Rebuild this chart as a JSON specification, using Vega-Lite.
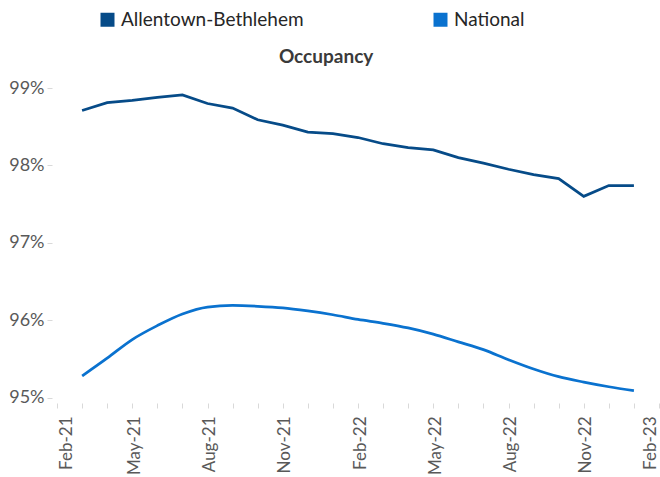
{
  "$schema": "https://vega.github.io/schema/vega-lite/v6.json",
  "width": 602,
  "height": 315,
  "autosize": {"type": "none"},
  "padding": {"left": 57, "top": 88, "right": 1, "bottom": 74},
  "background": "white",
  "title": {"text": "Occupancy", "font": "Lato", "fontSize": 19, "fontWeight": "bold", "color": "#3a3a3a", "anchor": "middle", "frame": "bounds", "offset": -57, "dx": -8},
  "data": {"values": [
    {"month": "Mar-21", "series": "Allentown-Bethlehem", "occ": 0.9871},
    {"month": "Apr-21", "series": "Allentown-Bethlehem", "occ": 0.9881},
    {"month": "May-21", "series": "Allentown-Bethlehem", "occ": 0.9884},
    {"month": "Jun-21", "series": "Allentown-Bethlehem", "occ": 0.9888},
    {"month": "Jul-21", "series": "Allentown-Bethlehem", "occ": 0.9891},
    {"month": "Aug-21", "series": "Allentown-Bethlehem", "occ": 0.9880},
    {"month": "Sep-21", "series": "Allentown-Bethlehem", "occ": 0.9874},
    {"month": "Oct-21", "series": "Allentown-Bethlehem", "occ": 0.9859},
    {"month": "Nov-21", "series": "Allentown-Bethlehem", "occ": 0.9852},
    {"month": "Dec-21", "series": "Allentown-Bethlehem", "occ": 0.9843},
    {"month": "Jan-22", "series": "Allentown-Bethlehem", "occ": 0.9841},
    {"month": "Feb-22", "series": "Allentown-Bethlehem", "occ": 0.9836},
    {"month": "Mar-22", "series": "Allentown-Bethlehem", "occ": 0.9828},
    {"month": "Apr-22", "series": "Allentown-Bethlehem", "occ": 0.9823},
    {"month": "May-22", "series": "Allentown-Bethlehem", "occ": 0.9820},
    {"month": "Jun-22", "series": "Allentown-Bethlehem", "occ": 0.9810},
    {"month": "Jul-22", "series": "Allentown-Bethlehem", "occ": 0.9803},
    {"month": "Aug-22", "series": "Allentown-Bethlehem", "occ": 0.9795},
    {"month": "Sep-22", "series": "Allentown-Bethlehem", "occ": 0.9788},
    {"month": "Oct-22", "series": "Allentown-Bethlehem", "occ": 0.9783},
    {"month": "Nov-22", "series": "Allentown-Bethlehem", "occ": 0.9760},
    {"month": "Dec-22", "series": "Allentown-Bethlehem", "occ": 0.9774},
    {"month": "Jan-23", "series": "Allentown-Bethlehem", "occ": 0.9774},
    {"month": "Mar-21", "series": "National", "occ": 0.9528},
    {"month": "Apr-21", "series": "National", "occ": 0.9551},
    {"month": "May-21", "series": "National", "occ": 0.9575},
    {"month": "Jun-21", "series": "National", "occ": 0.9593},
    {"month": "Jul-21", "series": "National", "occ": 0.9608},
    {"month": "Aug-21", "series": "National", "occ": 0.9617},
    {"month": "Sep-21", "series": "National", "occ": 0.9619},
    {"month": "Oct-21", "series": "National", "occ": 0.9618},
    {"month": "Nov-21", "series": "National", "occ": 0.9616},
    {"month": "Dec-21", "series": "National", "occ": 0.9612},
    {"month": "Jan-22", "series": "National", "occ": 0.9607},
    {"month": "Feb-22", "series": "National", "occ": 0.9601},
    {"month": "Mar-22", "series": "National", "occ": 0.9596},
    {"month": "Apr-22", "series": "National", "occ": 0.9590},
    {"month": "May-22", "series": "National", "occ": 0.9582},
    {"month": "Jun-22", "series": "National", "occ": 0.9572},
    {"month": "Jul-22", "series": "National", "occ": 0.9562},
    {"month": "Aug-22", "series": "National", "occ": 0.9549},
    {"month": "Sep-22", "series": "National", "occ": 0.9537},
    {"month": "Oct-22", "series": "National", "occ": 0.9527},
    {"month": "Nov-22", "series": "National", "occ": 0.9520},
    {"month": "Dec-22", "series": "National", "occ": 0.9514},
    {"month": "Jan-23", "series": "National", "occ": 0.9509}
  ]},
  "encoding": {
    "x": {
      "field": "month",
      "type": "ordinal",
      "scale": {"type": "point", "padding": 0, "domain": ["Feb-21","Mar-21","Apr-21","May-21","Jun-21","Jul-21","Aug-21","Sep-21","Oct-21","Nov-21","Dec-21","Jan-22","Feb-22","Mar-22","Apr-22","May-22","Jun-22","Jul-22","Aug-22","Sep-22","Oct-22","Nov-22","Dec-22","Jan-23","Feb-23"]},
      "axis": {
        "title": null,
        "labelAngle": 270,
        "labelExpr": "indexof(['Feb','May','Aug','Nov'], substring(datum.value, 0, 3)) >= 0 ? datum.value : ''",
        "labelOverlap": false,
        "tickSize": 5,
        "tickColor": "#d9d9d9",
        "domain": false,
        "grid": false,
        "labelPadding": 8,
        "labelOffset": {"condition": [{"test": "datum.value === 'Feb-21'", "value": 9}, {"test": "datum.value === 'Feb-23'", "value": -9}], "value": 2},
        "labelFont": "Lato",
        "labelFontSize": 17,
        "labelColor": "#595959"
      }
    },
    "y": {
      "field": "occ",
      "type": "quantitative",
      "scale": {"domain": [0.9493, 0.99], "nice": false, "zero": false},
      "axis": {
        "title": null,
        "values": [0.95, 0.96, 0.97, 0.98, 0.99],
        "format": ".0%",
        "tickSize": 5,
        "tickColor": "#d9d9d9",
        "domain": false,
        "grid": false,
        "offset": 5,
        "labelPadding": 3,
        "labelFont": "Lato",
        "labelFontSize": 18,
        "labelColor": "#595959"
      }
    },
    "color": {
      "field": "series",
      "type": "nominal",
      "scale": {"domain": ["Allentown-Bethlehem", "National"], "range": ["#064b88", "#0a72cf"]},
      "legend": {
        "title": null,
        "orient": "none",
        "legendX": 41,
        "legendY": -78,
        "direction": "horizontal",
        "padding": 0,
        "symbolType": "square",
        "symbolSize": 196,
        "symbolStrokeWidth": 0,
        "symbolOpacity": 1,
        "labelFont": "Lato",
        "labelFontSize": 19,
        "labelLimit": 400,
        "labelColor": "#262626",
        "labelOffset": 4,
        "columnPadding": 127,
        "encode": {"symbols": {"update": {"fill": {"scale": "color", "field": "value"}, "strokeWidth": {"value": 0}}}}
      }
    }
  },
  "layer": [
    {"transform": [{"filter": "datum.series === 'Allentown-Bethlehem'"}], "mark": {"type": "line", "strokeWidth": 2.75}},
    {"transform": [{"filter": "datum.series === 'National'"}], "mark": {"type": "line", "strokeWidth": 2.75, "interpolate": "monotone"}}
  ],
  "config": {"view": {"stroke": null}, "font": "Lato"}
}
